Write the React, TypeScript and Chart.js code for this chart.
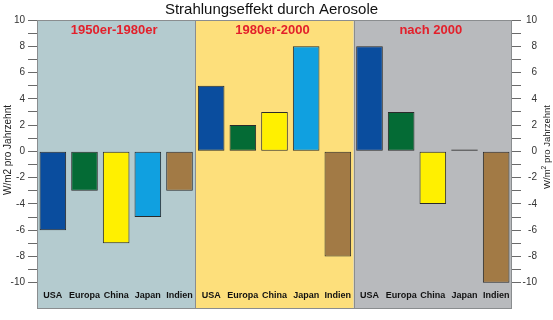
import { useEffect, useRef } from 'react';
import { Chart, registerables } from 'chart.js';

Chart.register(...registerables);

const chartTitle = 'Strahlungseffekt durch Aerosole';
const periods = ['1950er-1980er', '1980er-2000', 'nach 2000'];
const countries = ['USA', 'Europa', 'China', 'Japan', 'Indien'];
const values1950s = [-6, -3, -7, -5, -3];
const values1980s = [5, 2, 3, 8, -8];
const values2000s = [8, 3, -4, 0.15, -10];
const countryColors = ['#0a4d9e', '#046b35', '#fff000', '#10a0e0', '#a27a45'];
const panelColors = ['#b4cbcf', '#fddf7b', '#b8babd'];
const yTickValues = [-10, -9, -8, -7, -6, -5, -4, -3, -2, -1, 0, 1, 2, 3, 4, 5, 6, 7, 8, 9, 10];
const yMin = -12;
const yMax = 10;

const FONT = "'Liberation Sans', Arial, Helvetica, sans-serif";

const tickLabel = (v: number) => (v % 2 === 0 ? String(v) : '');

function drawAxisTitle(ctx: CanvasRenderingContext2D, x: number, top: number, size: number, sup: boolean) {
  ctx.save();
  ctx.fillStyle = '#222';
  ctx.textBaseline = 'middle';
  ctx.textAlign = 'left';
  const big = `${size}px ${FONT}`;
  const small = `${size * 0.7}px ${FONT}`;
  const parts: [string, string, number][] = sup
    ? [['W/m', big, 0], ['2', small, -3], [' pro Jahrzehnt', big, 0]]
    : [['W/m2 pro Jahrzehnt', big, 0]];
  let total = 0;
  parts.forEach(([t, f]) => { ctx.font = f; total += ctx.measureText(t).width; });
  ctx.translate(x, top + total);
  ctx.rotate(-Math.PI / 2);
  let cx = 0;
  parts.forEach(([t, f, dy]) => {
    ctx.font = f;
    ctx.fillText(t, cx, dy);
    cx += ctx.measureText(t).width;
  });
  ctx.restore();
}

const decor = {
  id: 'decor',
  beforeDatasetsDraw(chart: any) {
    const { ctx, chartArea: a } = chart;
    const w = (a.right - a.left) / periods.length;
    ctx.save();
    periods.forEach((_, i) => {
      ctx.fillStyle = panelColors[i];
      ctx.fillRect(a.left + i * w, a.top, w, a.bottom - a.top);
    });
    ctx.strokeStyle = '#8a8d8f';
    ctx.lineWidth = 1;
    for (let i = 1; i < periods.length; i++) {
      const x = Math.round(a.left + i * w) + 0.5;
      ctx.beginPath();
      ctx.moveTo(x, a.top);
      ctx.lineTo(x, a.bottom);
      ctx.stroke();
    }
    ctx.strokeRect(a.left + 0.5, a.top + 0.5, a.right - a.left - 1, a.bottom - a.top - 1);
    ctx.restore();
  },
  afterDatasetsDraw(chart: any) {
    const { ctx, chartArea: a } = chart;
    const xs = chart.scales.x;
    const ys = chart.scales.y2;
    const w = (a.right - a.left) / periods.length;
    ctx.save();
    // title
    ctx.fillStyle = '#111';
    ctx.font = `15px ${FONT}`;
    ctx.textAlign = 'center';
    ctx.textBaseline = 'alphabetic';
    ctx.fillText(chartTitle, (a.left + a.right) / 2 - 3, 14);
    // period labels
    ctx.fillStyle = '#e3202b';
    ctx.font = `bold 13px ${FONT}`;
    periods.forEach((p, i) => {
      ctx.fillText(p, a.left + (i + 0.5) * w - 2, a.top + 14);
    });
    // category labels
    ctx.fillStyle = '#111';
    ctx.font = `bold 9px ${FONT}`;
    chart.data.labels.forEach((l: string, i: number) => {
      ctx.fillText(l, xs.getPixelForValue(i), a.bottom - 11.5);
    });
    // right axis tick labels (right aligned)
    ctx.fillStyle = '#333';
    ctx.font = `10px ${FONT}`;
    ctx.textAlign = 'right';
    ctx.textBaseline = 'middle';
    yTickValues.forEach((v) => {
      const t = tickLabel(v);
      if (t) ctx.fillText(t, a.right + 25, ys.getPixelForValue(v));
    });
    ctx.restore();
    drawAxisTitle(ctx, 8, 105, 10, false);
    drawAxisTitle(ctx, 547, 105, 9.5, true);
  },
};

export default function App() {
  const ref = useRef<HTMLCanvasElement>(null);
  useEffect(() => {
    document.body.style.margin = '0';
    const labels = [...countries, ...countries, ...countries];
    const data = [...values1950s, ...values1980s, ...values2000s];
    const colors = [...countryColors, ...countryColors, ...countryColors];
    const yCommon = (position: string, width: number) => ({
      type: 'linear' as const,
      position,
      min: yMin,
      max: yMax,
      afterBuildTicks: (s: any) => {
        s.ticks = yTickValues.map((v) => ({ value: v }));
      },
      afterFit: (s: any) => {
        s.width = width;
      },
      border: { display: false },
      grid: {
        drawOnChartArea: false,
        drawTicks: true,
        tickLength: 9,
        color: '#6a6a6a',
        lineWidth: 1,
      },
      ticks: {
        display: position === 'left',
        autoSkip: false,
        color: '#333',
        font: { family: FONT, size: 10 },
        padding: 3,
        callback: (v: any) => tickLabel(Number(v)),
      },
    });
    const chart = new Chart(ref.current!, {
      type: 'bar',
      data: {
        labels,
        datasets: [
          {
            data,
            backgroundColor: colors,
            borderColor: '#2a2a2a',
            borderWidth: 1,
            borderSkipped: false,
            barPercentage: 0.84,
            categoryPercentage: 1,
            yAxisID: 'y',
          },
        ],
      },
      options: {
        responsive: false,
        animation: false,
        devicePixelRatio: 1,
        layout: { padding: { top: 20, bottom: 11, left: 0, right: 0 } },
        plugins: { legend: { display: false }, tooltip: { enabled: false }, title: { display: false } },
        scales: {
          x: { display: false, offset: true },
          y: yCommon('left', 37) as any,
          y2: yCommon('right', 41) as any,
        },
      },
      plugins: [decor],
    });
    return () => chart.destroy();
  }, []);
  return <canvas ref={ref} width={553} height={320} style={{ display: 'block' }} />;
}
